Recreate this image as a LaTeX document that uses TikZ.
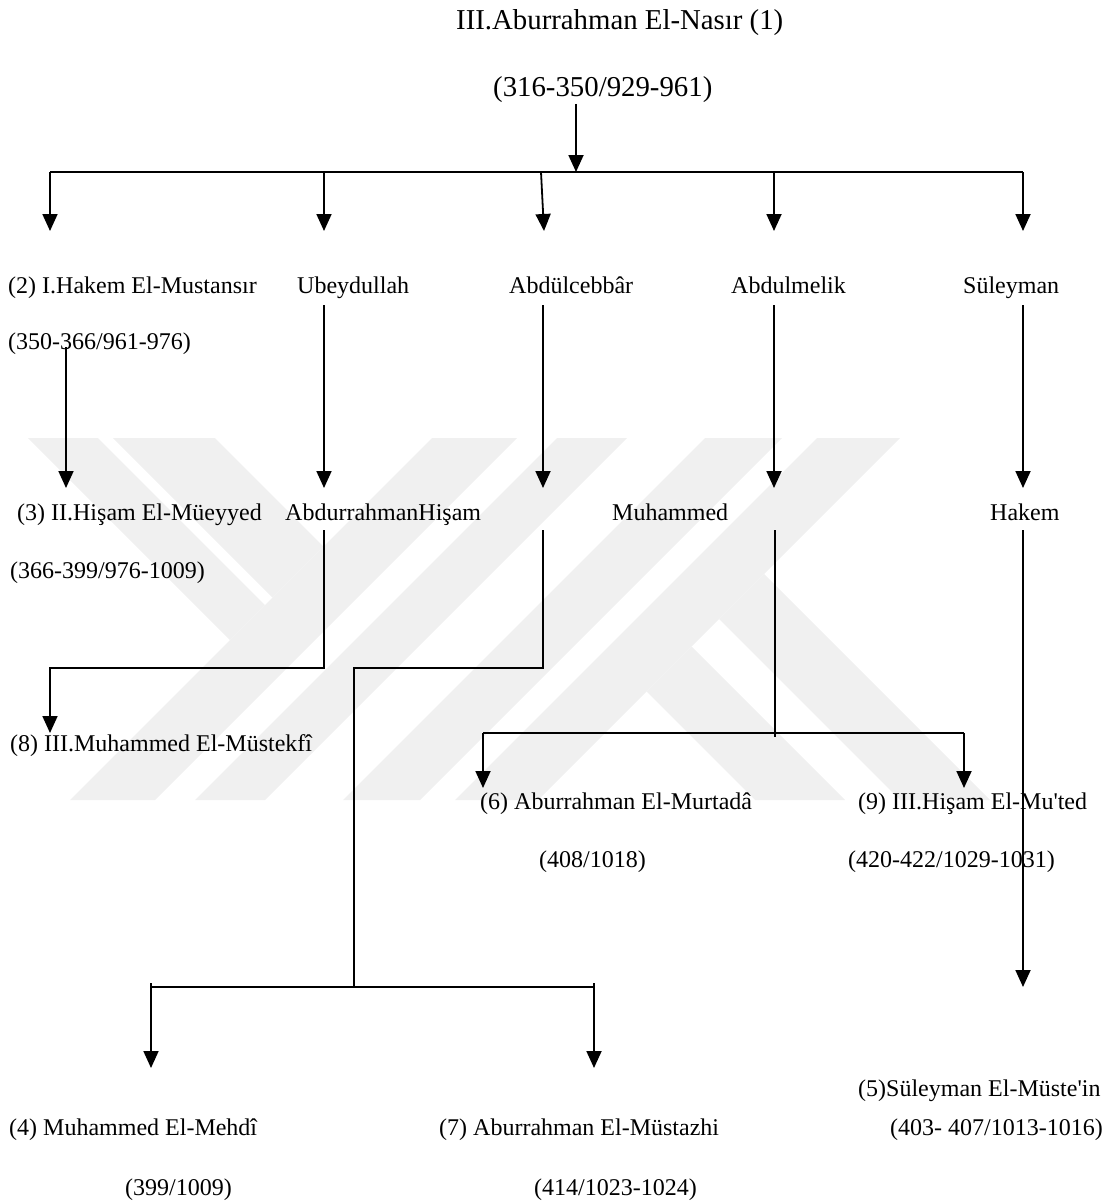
\documentclass[tikz,border=0pt]{standalone}
\usepackage{fontspec}
\setmainfont{Liberation Serif}
\usetikzlibrary{arrows.meta}
\definecolor{wmark}{RGB}{240,240,240}

\begin{document}
\begin{tikzpicture}[x=1pt,y=-1pt,
  lbl/.style={inner sep=0pt,anchor=base west,font=\fontsize{24}{28}\selectfont},
  tlbl/.style={inner sep=0pt,anchor=base west,font=\fontsize{28.8}{34}\selectfont},
  arr/.style={line width=1.8pt,-{Triangle[width=15pt,length=17pt]}},
  ln/.style={line width=1.6pt},
  bar/.style={line width=2.2pt}]
\useasboundingbox (0,0) rectangle (1115,1204);

% watermark
\fill[wmark] (28,438) -- (98,438) -- (265,605) -- (230,640) -- cycle;
\fill[wmark] (113,438) -- (215,438) -- (323.5,546.5) -- (272.5,597.5) -- cycle;
\fill[wmark] (432,438) -- (517,438) -- (155,800) -- (70,800) -- cycle;
\fill[wmark] (557,438) -- (627,438) -- (265,800) -- (195,800) -- cycle;
\fill[wmark] (705,438) -- (782,438) -- (420,800) -- (343,800) -- cycle;
\fill[wmark] (817,438) -- (900,438) -- (538,800) -- (455,800) -- cycle;
\fill[wmark] (691.5,646.5) -- (845,800) -- (755,800) -- (646.5,691.5) -- cycle;
\fill[wmark] (764,574) -- (990,800) -- (900,800) -- (719,619) -- cycle;

\node[tlbl] (nasir) at (456,30) {III.Aburrahman El-Nasır (1)};
\node[tlbl] (nasirdate) at (493,97) {(316-350/929-961)};

\node[lbl] (hakem1) at (8,293) {(2) I.Hakem El-Mustansır};
\node[lbl] (ubey) at (297,293) {Ubeydullah};
\node[lbl] (cebbar) at (509,293) {Abdülcebbâr};
\node[lbl] (melik) at (731,293) {Abdulmelik};
\node[lbl] (suleyman) at (963,293) {Süleyman};
\node[lbl] (hakem1date) at (8,349) {(350-366/961-976)};

\node[lbl] (hisam2) at (17,520) {(3) II.Hişam El-Müeyyed};
\node[lbl] (abdhisam) at (285,520) {AbdurrahmanHişam};
\node[lbl] (muhammed) at (612,520) {Muhammed};
\node[lbl] (hakem) at (990,520) {Hakem};
\node[lbl] (hisam2date) at (10,578) {(366-399/976-1009)};

\node[lbl] (mustekfi) at (10,751) {(8) III.Muhammed El-Müstekfî};
\node[lbl] (murtada) at (480,809) {(6) Aburrahman El-Murtadâ};
\node[lbl] (murtadadate) at (539,867) {(408/1018)};
\node[lbl] (mutedd) at (858,809) {(9) III.Hişam El-Mu\textquotesingle ted};
\node[lbl] (muteddate) at (848,867) {(420-422/1029-1031)};

\node[lbl] (mustein) at (858,1096) {(5)Süleyman El-Müste\textquotesingle in};
\node[lbl,anchor=base east] (musteindate) at (1103,1135) {(403- 407/1013-1016)};
\node[lbl] (mehdi) at (9,1135) {(4) Muhammed El-Mehdî};
\node[lbl] (mustazhi) at (439,1135) {(7) Aburrahman El-Müstazhi};
\node[lbl] (mehdidate) at (125,1195) {(399/1009)};
\node[lbl] (mustazhidate) at (534,1195) {(414/1023-1024)};

% first generation
\coordinate (r0) at (576,104);
\coordinate (r1) at (576,172);
\coordinate (s0) at (50,172);
\coordinate (s1) at (1023,172);
\draw[arr] (r0) -- (r1);
\draw[bar] (s0) -- (s1);
\foreach \n/\xa/\xb in {a/50/50,b/324/324,c/541/544,d/774/774,e/1023/1023}{
  \coordinate (top\n) at (\xa,172);
  \coordinate (tip\n) at (\xb,231);
  \draw[arr] (top\n) -- (tip\n);
}

% second generation
\foreach \n/\x/\y in {a/66/347,b/324/305,c/543/305,d/774/305,e/1023/305}{
  \coordinate (from\n) at (\x,\y);
  \coordinate (to\n) at (\x,488);
  \draw[arr] (from\n) -- (to\n);
}

% third generation
\coordinate (q1) at (324,530);
\coordinate (q2) at (324,668);
\coordinate (q3) at (50,668);
\coordinate (q4) at (50,733);
\draw[arr] (q1) -- (q2) -- (q3) -- (q4);

\coordinate (c1) at (543,530);
\coordinate (c2) at (543,668);
\coordinate (c3) at (354,668);
\coordinate (c4) at (354,987);
\draw[ln] (c1) -- (c2) -- (c3) -- (c4);
\coordinate (m0) at (151,987);
\coordinate (m1) at (594,987);
\draw[bar] (m0) -- (m1);
\coordinate (m2) at (151,983);
\coordinate (m3) at (151,1068);
\coordinate (m4) at (594,983);
\coordinate (m5) at (594,1068);
\draw[arr] (m2) -- (m3);
\draw[arr] (m4) -- (m5);

\coordinate (d1) at (775,530);
\coordinate (d2) at (775,737);
\draw[ln] (d1) -- (d2);
\coordinate (e0) at (483,733);
\coordinate (e1) at (964,733);
\coordinate (e2) at (483,788);
\coordinate (e3) at (964,788);
\draw[bar] (e0) -- (e1);
\draw[arr] (e0) -- (e2);
\draw[arr] (e1) -- (e3);

\coordinate (h1) at (1023,530);
\coordinate (h2) at (1023,987);
\draw[arr] (h1) -- (h2);

\end{tikzpicture}
\end{document}
